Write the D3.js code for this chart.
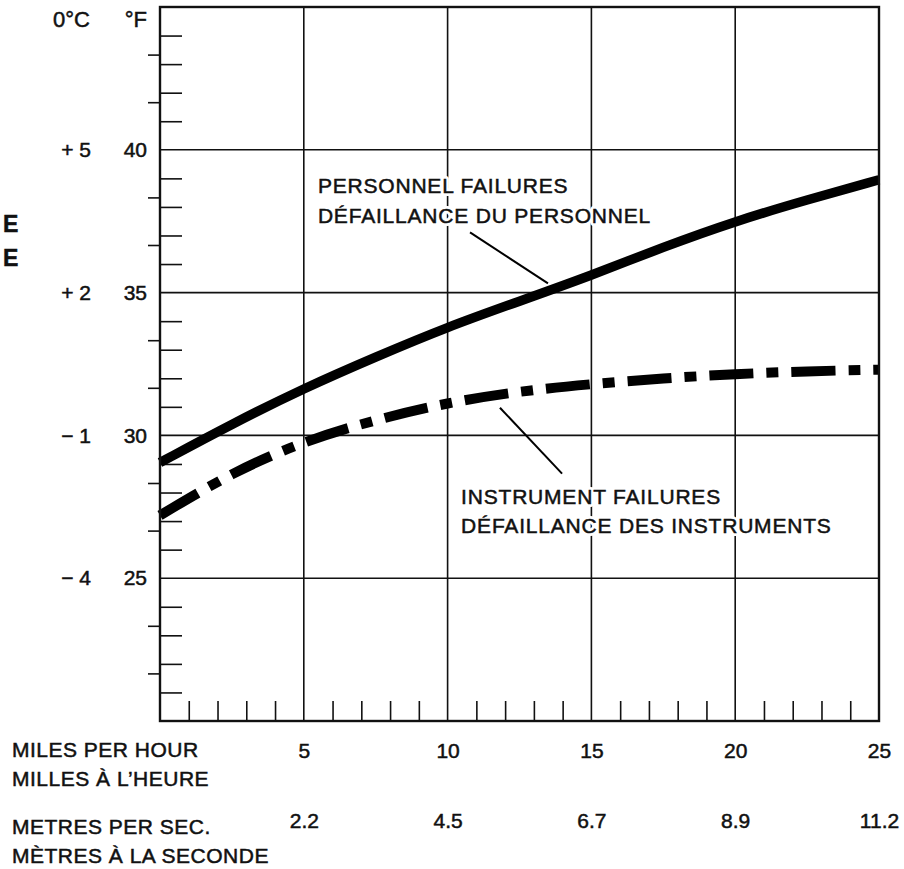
<!DOCTYPE html>
<html>
<head>
  <meta charset="utf-8">
  <title>Failures vs wind speed</title>
  <style>
    body { margin: 0; background: #fff; }
    svg { display: block; }
    text { font-family: "Liberation Sans", Arial, Helvetica, sans-serif; fill: #111; stroke: #111; stroke-width: 0.5px; }
    .grid { stroke: #111; stroke-width: 1.6; }
    .frame { fill: none; stroke: #111; stroke-width: 2.4; }
    .axis path { display: none; }
    .axis line { stroke: #111; stroke-width: 1.6; }
    .axis text { font-size: 21px; fill: #111; }
    .note { font-size: 21px; letter-spacing: 0.8px; }
    .halo { stroke: #fff; stroke-width: 6px; stroke-linejoin: round; fill: #fff; }
  </style>
  <script src="https://d3js.org/d3.v7.min.js"></script>
</head>
<body>
  <script>
    // wind speed, miles per hour
    var mph = [0, 2.5, 5, 7.5, 10, 12.5, 15, 17.5, 20, 22.5, 25];
    // temperature (°F) at which failures set in
    var personnel = [29.05, 30.4, 31.65, 32.75, 33.8, 34.7, 35.6, 36.6, 37.5, 38.25, 38.95];
    var instrument = [27.2, 28.7, 29.8, 30.55, 31.15, 31.55, 31.8, 32.0, 32.15, 32.25, 32.3];

    var mphTicks = [5, 10, 15, 20, 25];
    var metresLabels = ["2.2", "4.5", "6.7", "8.9", "11.2"];
    var fTicks = [25, 30, 35, 40];
    var cTicks = [-4, -1, 2, 5];
    var cLabels = ["\u2212 4", "\u2212 1", "+ 2", "+ 5"];

    var width = 904, height = 869;
    var svg = d3.select("body").append("svg")
      .attr("width", width)
      .attr("height", height);

    var x = d3.scaleLinear().domain([0, 25]).range([160, 879]);
    var y = d3.scaleLinear().domain([20, 45]).range([721, 7]);
    // the chart's own (rounded) celsius scale: +5 at 40°F, -4 at 25°F
    var c = d3.scaleLinear().domain([-4, 5]).range([y(25), y(40)]);

    // grid
    svg.append("g").selectAll("line")
      .data(fTicks).enter().append("line")
        .attr("class", "grid")
        .attr("x1", x(0)).attr("x2", x(25))
        .attr("y1", d => y(d)).attr("y2", d => y(d));
    svg.append("g").selectAll("line")
      .data(mphTicks.slice(0, 4)).enter().append("line")
        .attr("class", "grid")
        .attr("x1", d => x(d)).attr("x2", d => x(d))
        .attr("y1", y(20)).attr("y2", y(45));

    // minor ticks
    var mphMinor = d3.range(1, 25).filter(d => d % 5 != 0);
    svg.append("g").attr("class", "axis")
      .attr("transform", "translate(0," + y(20) + ")")
      .call(d3.axisTop(x).tickValues(mphMinor).tickSize(20).tickFormat(""));

    var fMinor = d3.range(21, 45).filter(d => d % 5 != 0);
    svg.append("g").attr("class", "axis")
      .attr("transform", "translate(" + x(0) + ",0)")
      .call(d3.axisRight(y).tickValues(fMinor).tickSize(22).tickFormat(""));

    var cMinor = d3.range(-6, 8).filter(d => cTicks.indexOf(d) < 0);
    svg.append("g").attr("class", "axis")
      .attr("transform", "translate(" + x(0) + ",0)")
      .call(d3.axisLeft(c).tickValues(cMinor).tickSize(12).tickFormat(""));

    // tick labels
    svg.append("g").attr("class", "axis")
      .attr("transform", "translate(" + x(0) + ",0)")
      .call(d3.axisLeft(y).tickValues(fTicks).tickSize(0).tickPadding(13).tickFormat(d3.format("d")));

    svg.append("g").attr("class", "axis")
      .attr("transform", "translate(" + x(0) + ",0)")
      .call(d3.axisLeft(c).tickValues(cTicks).tickSize(0).tickPadding(69)
        .tickFormat((d, i) => cLabels[i]));

    svg.append("g").attr("class", "axis")
      .attr("transform", "translate(0," + y(20) + ")")
      .call(d3.axisBottom(x).tickValues(mphTicks).tickSize(0).tickPadding(22).tickFormat(d3.format("d")));

    svg.append("g").attr("class", "axis")
      .attr("transform", "translate(0," + y(20) + ")")
      .call(d3.axisBottom(x).tickValues(mphTicks).tickSize(0).tickPadding(92)
        .tickFormat((d, i) => metresLabels[i]));

    // curves
    var line = d3.line()
      .x((d, i) => x(mph[i]))
      .y(d => y(d))
      .curve(d3.curveBasis);

    svg.append("path")
      .datum(personnel)
      .attr("d", line)
      .attr("fill", "none")
      .attr("stroke", "#000")
      .attr("stroke-width", 9.5);

    svg.append("path")
      .datum(instrument)
      .attr("d", line)
      .attr("fill", "none")
      .attr("stroke", "#000")
      .attr("stroke-width", 10)
      .attr("stroke-dasharray", "44 13 12 13");

    // frame
    svg.append("rect")
      .attr("class", "frame")
      .attr("x", x(0)).attr("y", y(45))
      .attr("width", x(25) - x(0))
      .attr("height", y(20) - y(45));

    // annotations
    var notes = [
      { lines: ["PERSONNEL FAILURES", "D\u00C9FAILLANCE DU PERSONNEL"], mph: 5.49, f: 38.48,
        from: [10.78, 37.11], to: [13.49, 35.32] },
      { lines: ["INSTRUMENT FAILURES", "D\u00C9FAILLANCE DES INSTRUMENTS"], mph: 10.47, f: 27.61,
        from: [11.82, 30.97], to: [13.98, 28.66] }
    ];
    notes.forEach(function(n) {
      svg.append("line")
        .attr("x1", x(n.from[0])).attr("y1", y(n.from[1]))
        .attr("x2", x(n.to[0])).attr("y2", y(n.to[1]))
        .attr("stroke", "#000").attr("stroke-width", 2);
      ["note halo", "note"].forEach(function(cls) {
        var t = svg.append("text").attr("class", cls)
          .attr("x", x(n.mph)).attr("y", y(n.f));
        n.lines.forEach(function(s, i) {
          t.append("tspan").attr("x", x(n.mph)).attr("dy", i ? 29.5 : 0).text(s);
        });
      });
    });

    // headers and unit labels
    svg.append("text").attr("x", 90).attr("y", 27).attr("text-anchor", "end")
      .style("font-size", "22px").text("0\u00B0C");
    svg.append("text").attr("x", 147).attr("y", 27).attr("text-anchor", "end")
      .style("font-size", "22px").text("\u00B0F");

    svg.append("text").attr("x", 3).attr("y", 232)
      .style("font-size", "23px").style("font-weight", "bold").text("E");
    svg.append("text").attr("x", 3).attr("y", 266)
      .style("font-size", "23px").style("font-weight", "bold").text("E");

    var unitLabels = [
      ["MILES PER HOUR", 757],
      ["MILLES \u00C0 L\u2019HEURE", 786],
      ["METRES PER SEC.", 834],
      ["M\u00C8TRES \u00C0 LA SECONDE", 863]
    ];
    svg.append("g").selectAll("text")
      .data(unitLabels).enter().append("text")
        .attr("x", 12)
        .attr("y", d => d[1])
        .style("font-size", "21px")
        .style("letter-spacing", "0.5px")
        .text(d => d[0]);
  </script>
</body>
</html>
